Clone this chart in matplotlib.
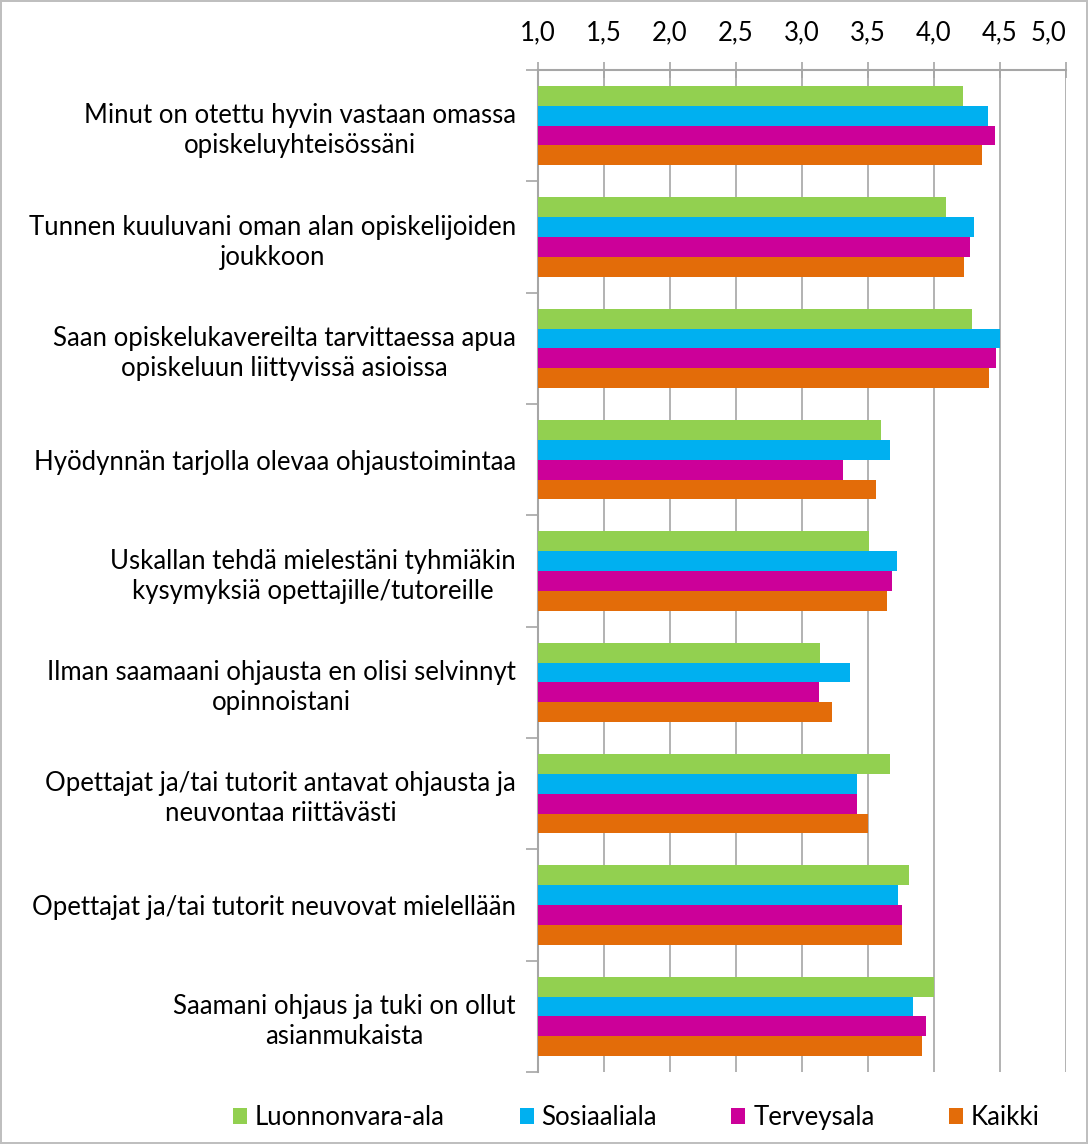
import matplotlib.pyplot as plt
import numpy as np
from matplotlib.ticker import FixedLocator

plt.rcParams['font.family'] = ['Lato', 'DejaVu Sans']

categories = [
    "Minut on otettu hyvin vastaan omassa\nopiskeluyhteisössäni",
    "Tunnen kuuluvani oman alan opiskelijoiden\njoukkoon",
    "Saan opiskelukavereilta tarvittaessa apua\nopiskeluun liittyvissä asioissa",
    "Hyödynnän tarjolla olevaa ohjaustoimintaa",
    "Uskallan tehdä mielestäni tyhmiäkin\nkysymyksiä opettajille/tutoreille",
    "Ilman saamaani ohjausta en olisi selvinnyt\nopinnoistani",
    "Opettajat ja/tai tutorit antavat ohjausta ja\nneuvontaa riittävästi",
    "Opettajat ja/tai tutorit neuvovat mielellään",
    "Saamani ohjaus ja tuki on ollut\nasianmukaista",
]
series_names = ["Luonnonvara-ala", "Sosiaaliala", "Terveysala", "Kaikki"]
luonnonvara = [4.22, 4.09, 4.29, 3.60, 3.51, 3.14, 3.67, 3.81, 4.00]
sosiaali = [4.41, 4.30, 4.50, 3.67, 3.72, 3.36, 3.42, 3.73, 3.84]
terveys = [4.46, 4.27, 4.47, 3.31, 3.68, 3.13, 3.42, 3.76, 3.94]
kaikki = [4.36, 4.23, 4.42, 3.56, 3.64, 3.23, 3.50, 3.76, 3.91]
x_ticks = [1.0, 1.5, 2.0, 2.5, 3.0, 3.5, 4.0, 4.5, 5.0]
colors = ["#92D050", "#00B0F0", "#CC0099", "#E36C09"]

fig = plt.figure(figsize=(10.88, 11.44), dpi=100)
fig.patch.set_edgecolor("#BFBFBF")
fig.patch.set_linewidth(1.5)
ax = fig.add_axes([0.4945, 0.0629, 0.4853, 0.8759])

n = len(categories)
y = np.arange(n)
h = 0.178
all_series = [luonnonvara, sosiaali, terveys, kaikki]
for i, (vals, name, c) in enumerate(zip(all_series, series_names, colors)):
    offs = (i - 1.5) * h
    ax.barh(y + offs, np.array(vals) - 1.0, left=1.0, height=h, color=c,
            label=name, zorder=3)

ax.set_xlim(1.0, 5.0)
ax.set_ylim(n - 0.5, -0.5)
ax.set_xticks(x_ticks)
ax.set_xticklabels([f"{v:.1f}".replace(".", ",") for v in x_ticks], fontsize=18.5)
ax.tick_params(axis='x', top=True, labeltop=True, bottom=False, labelbottom=False,
               direction='inout', length=12, width=1.2, color="#A6A6A6", pad=12)
# last label is pushed inside like in the original
ax.get_xticklabels(which='major')[-1].set_horizontalalignment('right')
ax.grid(axis='x', color="#ADADAD", linewidth=1.3, zorder=0)

ax.set_yticks(y)
ax.set_yticklabels(categories, fontsize=18.5, multialignment='center',
                   linespacing=1.25)
ax.tick_params(axis='y', length=0, pad=16)
ax.yaxis.set_minor_locator(FixedLocator(np.arange(n + 1) - 0.5))
ax.tick_params(axis='y', which='minor', length=9, width=1.2, color="#A6A6A6")

for s in ['right', 'bottom']:
    ax.spines[s].set_visible(False)
for s in ['top', 'left']:
    ax.spines[s].set_color("#A6A6A6")
    ax.spines[s].set_linewidth(1.5)

fig.legend(loc='lower center', bbox_to_anchor=(0.585, -0.008), ncol=4,
           frameon=False, fontsize=18.5, handlelength=0.55, handleheight=0.55,
           handletextpad=0.3, columnspacing=2.9)

fig.savefig("out.png", dpi=100)
